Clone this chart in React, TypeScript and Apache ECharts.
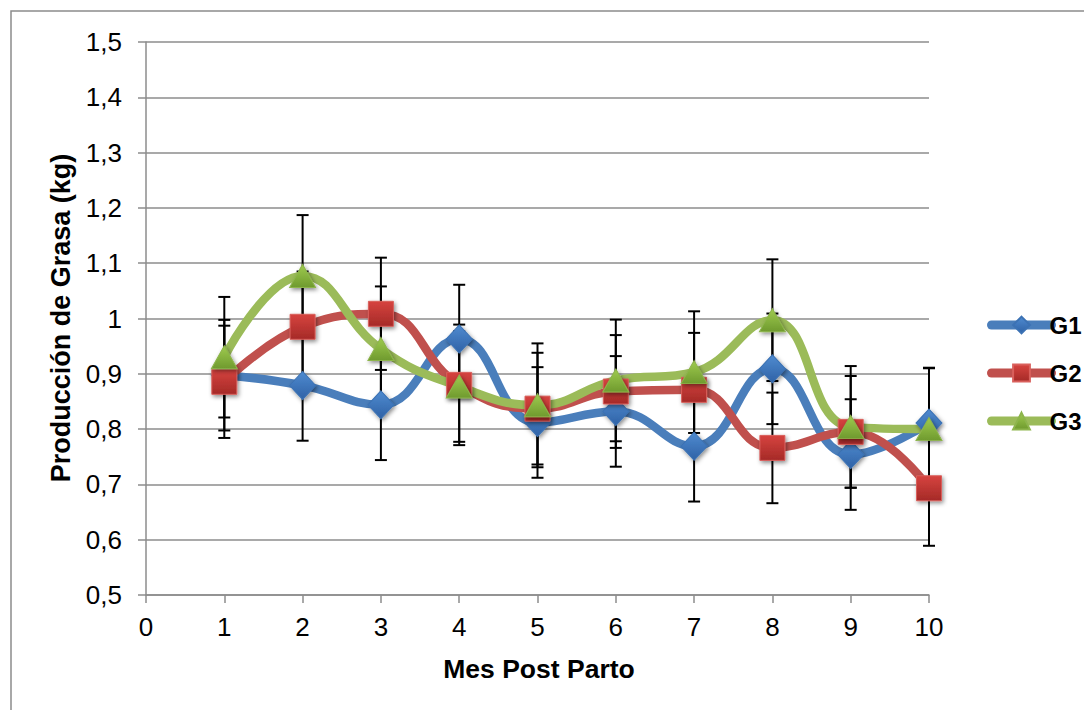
import React, { useEffect, useRef } from "react";
import * as echarts from "echarts";

// Months after calving
const months = [1, 2, 3, 4, 5, 6, 7, 8, 9, 10];

// Mean fat production (kg) per group
const g1Mean = [0.8975, 0.879, 0.844, 0.963, 0.812, 0.832, 0.769, 0.909, 0.754, 0.811];
const g2Mean = [0.8855, 0.985, 1.0085, 0.88, 0.837, 0.868, 0.871, 0.766, 0.795, 0.693];
const g3Mean = [0.93, 1.077, 0.945, 0.877, 0.843, 0.888, 0.903, 0.997, 0.804, 0.8];

// Error (± kg) per group
const g1Err = [0.1, 0.1, 0.1, 0.098, 0.1, 0.1, 0.1, 0.1, 0.1, 0.1];
const g2Err = [0.1015, 0.1, 0.1015, 0.109, 0.101, 0.102, 0.103, 0.1, 0.101, 0.104];
const g3Err = [0.109, 0.11, 0.113, 0.1, 0.112, 0.11, 0.11, 0.11, 0.11, 0.11];

const groupNames = ["G1", "G2", "G3"];
const yTicks = { min: 0.5, max: 1.5, step: 0.1 };
const xTicks = { min: 0, max: 10, step: 1 };

const FONT = "'Liberation Sans', Arial, sans-serif";

const grad = (top: string, bottom: string) =>
  new echarts.graphic.LinearGradient(0, 0, 0, 1, [
    { offset: 0, color: top },
    { offset: 1, color: bottom },
  ]);

const markerShadow = {
  shadowBlur: 4,
  shadowColor: "rgba(0,0,0,0.45)",
  shadowOffsetX: 1.5,
  shadowOffsetY: 2,
};

function pairs(means: number[]) {
  return months.map((m, i) => [m, means[i]]);
}

function bars(means: number[], errs: number[]) {
  return months.map((m, i) => [m, means[i] - errs[i], means[i] + errs[i]]);
}

function errorSeries(means: number[], errs: number[]) {
  return {
    type: "custom",
    silent: true,
    z: 1,
    data: bars(means, errs),
    encode: { x: 0, y: [1, 2] },
    renderItem: (_params: any, api: any) => {
      const x = api.value(0);
      const top = api.coord([x, api.value(2)]);
      const bot = api.coord([x, api.value(1)]);
      const hw = 6;
      const style = { stroke: "#000", lineWidth: 2 };
      return {
        type: "group",
        children: [
          { type: "line", shape: { x1: top[0], y1: top[1], x2: bot[0], y2: bot[1] }, style },
          { type: "line", shape: { x1: top[0] - hw, y1: top[1], x2: top[0] + hw, y2: top[1] }, style },
          { type: "line", shape: { x1: bot[0] - hw, y1: bot[1], x2: bot[0] + hw, y2: bot[1] }, style },
        ],
      };
    },
  };
}

function lineSeries(
  name: string,
  means: number[],
  lineColor: string,
  symbol: string,
  symbolSize: number | number[],
  fill: any,
  border: string
) {
  return {
    name,
    type: "line",
    z: 2,
    data: pairs(means),
    smooth: 0.45,
    symbol,
    symbolSize,
    lineStyle: { color: lineColor, width: 8.5, cap: "round", join: "round" },
    itemStyle: { color: fill, borderColor: border, borderWidth: 1, ...markerShadow },
  };
}

export default function App() {
  const ref = useRef<HTMLDivElement>(null);

  useEffect(() => {
    if (!ref.current) return;
    const chart = echarts.init(ref.current, null, { renderer: "svg" });

    const option = {
      animation: false,
      backgroundColor: "#fff",
      grid: { left: 138, right: 163, top: 34, bottom: 115, containLabel: false },
      xAxis: {
        type: "value",
        min: xTicks.min,
        max: xTicks.max,
        interval: xTicks.step,
        axisLine: { show: true, lineStyle: { color: "#8c8c8c", width: 1.5 } },
        axisTick: { show: true, inside: false, length: 8, lineStyle: { color: "#8c8c8c", width: 1.5 } },
        axisLabel: { color: "#000", fontFamily: FONT, fontSize: 26, margin: 19 },
        splitLine: { show: false },
      },
      yAxis: {
        type: "value",
        min: yTicks.min,
        max: yTicks.max,
        interval: yTicks.step,
        axisLine: { show: true, lineStyle: { color: "#8c8c8c", width: 1.5 } },
        axisTick: { show: true, inside: false, length: 8, lineStyle: { color: "#8c8c8c", width: 1.5 } },
        axisLabel: {
          color: "#000",
          fontFamily: FONT,
          fontSize: 26,
          margin: 24,
          formatter: (v: number) => String(Math.round(v * 10) / 10).replace(".", ","),
        },
        splitLine: { show: true, lineStyle: { color: "#8c8c8c", width: 1.5 } },
      },
      legend: {
        data: groupNames,
        orient: "vertical",
        left: 974,
        top: 300,
        itemWidth: 60,
        itemHeight: 21,
        itemGap: 24,
        lineStyle: { width: 9, cap: "round" },
        textStyle: { color: "#000", fontFamily: FONT, fontSize: 24, fontWeight: "bold", padding: [0, 0, 0, -7] },
      },
      graphic: [
        {
          type: "rect",
          silent: true,
          z: -10,
          shape: { x: 3, y: 3, width: 1200, height: 1200 },
          style: { fill: "none", stroke: "#8c8c8c", lineWidth: 1.5 },
        },
        {
          type: "text",
          x: 531,
          y: 661,
          style: {
            text: "Mes Post Parto",
            font: `bold 26.5px ${FONT}`,
            fill: "#000",
            textAlign: "center",
            textVerticalAlign: "middle",
          },
        },
        {
          type: "text",
          x: 53,
          y: 310,
          rotation: Math.PI / 2,
          style: {
            text: "Producción de Grasa (kg)",
            font: `bold 27px ${FONT}`,
            fill: "#000",
            textAlign: "center",
            textVerticalAlign: "middle",
          },
        },
      ],
      series: [
        errorSeries(g1Mean, g1Err),
        errorSeries(g2Mean, g2Err),
        errorSeries(g3Mean, g3Err),
        lineSeries("G1", g1Mean, "#4a7ebb", "diamond", [26, 28], grad("#4f8bd0", "#2f62a6"), "#3c72b4"),
        lineSeries("G2", g2Mean, "#c0504d", "rect", 25, grad("#d6433f", "#a52a27"), "#d9605c"),
        lineSeries("G3", g3Mean, "#9bbb59", "triangle", [26, 23], grad("#9fcb4f", "#6f9a2e"), "#8db54c"),
      ],
    };

    chart.setOption(option as any);
    return () => chart.dispose();
  }, []);

  return <div ref={ref} style={{ width: 1084, height: 702 }} />;
}
